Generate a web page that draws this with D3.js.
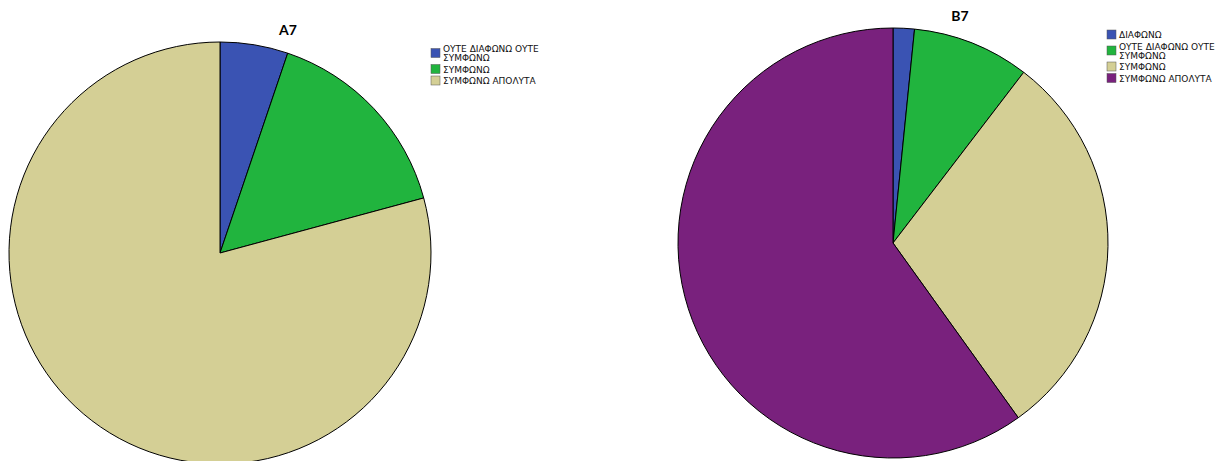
<!DOCTYPE html>
<html><head><meta charset="utf-8">
<script src="https://cdn.jsdelivr.net/npm/d3@7"></script>
<style>body{margin:0;background:#fff;}svg{display:block;font-family:"DejaVu Sans",sans-serif;}</style>
</head><body><svg id="c" width="1223" height="461"></svg>
<script>
const catsA = ["ΟΥΤΕ ΔΙΑΦΩΝΩ ΟΥΤΕ ΣΥΜΦΩΝΩ", "ΣΥΜΦΩΝΩ", "ΣΥΜΦΩΝΩ ΑΠΟΛΥΤΑ"];
const valsA = [5.2, 15.6, 79.2];
const colsA = ["#3a53b3", "#21b43e", "#d4cf95"];
const catsB = ["ΔΙΑΦΩΝΩ", "ΟΥΤΕ ΔΙΑΦΩΝΩ ΟΥΤΕ ΣΥΜΦΩΝΩ", "ΣΥΜΦΩΝΩ", "ΣΥΜΦΩΝΩ ΑΠΟΛΥΤΑ"];
const valsB = [1.6, 8.8, 29.7, 59.9];
const colsB = ["#3a53b3", "#21b43e", "#d4cf95", "#79217d"];

const svg = d3.select("#c");
function drawPie(cx, cy, r, cats, vals, cols, title, tx, ty, lx, ly, legendLines) {
  const pie = d3.pie().sort(null).value(d => d)(vals);
  const arc = d3.arc().innerRadius(0).outerRadius(r);
  const g = svg.append("g").attr("transform", `translate(${cx},${cy})`);
  g.selectAll("path").data(pie).join("path")
    .attr("d", arc).attr("fill", (d, i) => cols[i])
    .attr("stroke", "#000").attr("stroke-width", 1).attr("stroke-linejoin", "round");
  svg.append("text").attr("x", tx).attr("y", ty).attr("text-anchor", "middle")
    .attr("font-size", 14).attr("font-weight", "bold").attr("font-family", "Lato, sans-serif").text(title);
  const lg = svg.append("g").attr("transform", `translate(${lx},${ly})`);
  let y = 0;
  const ls = 9;
  cats.forEach((c, i) => {
    const lines = legendLines[i];
    const blockH = (lines.length - 1) * ls;
    lg.append("rect").attr("x", 0).attr("y", y + blockH / 2).attr("width", 9).attr("height", 9)
      .attr("fill", cols[i]).attr("stroke", "#555").attr("stroke-width", 0.5);
    lines.forEach((t, j) => {
      lg.append("text").attr("x", 12).attr("y", y + 8 + j * ls).attr("font-size", 9)
        .attr("fill", "#111").attr("font-family", "'DejaVu Sans', sans-serif").text(t);
    });
    y += 11.5 + blockH;
  });
}
drawPie(220, 253, 211, catsA, valsA, colsA, "A7", 288, 35, 431, 44,
  [["ΟΥΤΕ ΔΙΑΦΩΝΩ ΟΥΤΕ", "ΣΥΜΦΩΝΩ"], ["ΣΥΜΦΩΝΩ"], ["ΣΥΜΦΩΝΩ ΑΠΟΛΥΤΑ"]]);
drawPie(893, 243, 215, catsB, valsB, colsB, "B7", 960, 21, 1107, 30,
  [["ΔΙΑΦΩΝΩ"], ["ΟΥΤΕ ΔΙΑΦΩΝΩ ΟΥΤΕ", "ΣΥΜΦΩΝΩ"], ["ΣΥΜΦΩΝΩ"], ["ΣΥΜΦΩΝΩ ΑΠΟΛΥΤΑ"]]);
</script></body></html>
